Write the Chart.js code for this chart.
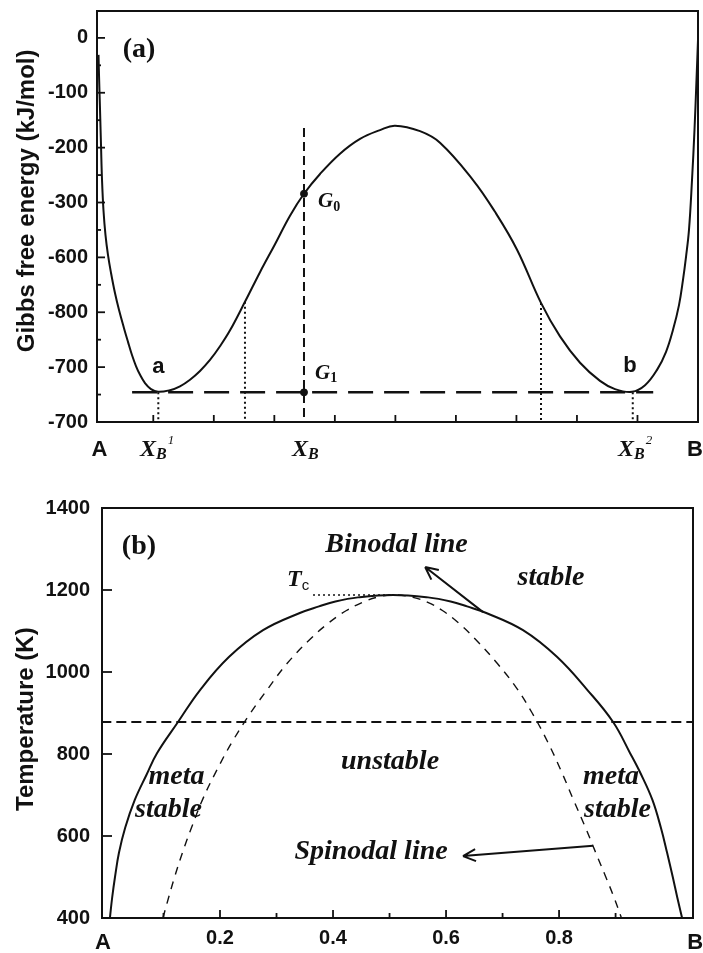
<!DOCTYPE html>
<html>
  <head>
    <script src="https://cdn.jsdelivr.net/npm/chart.js@4.4.1/dist/chart.umd.min.js"></script>
    <style>
      body { margin: 0; background: #fff; }
      .panel { position: absolute; left: 0; width: 703px; }
    </style>
  </head>
  <body>
    <div class="panel" style="top: 0; height: 470px"><canvas id="chart-a" width="703" height="470"></canvas></div>
    <div class="panel" style="top: 480px; height: 473px"><canvas id="chart-b" width="703" height="473"></canvas></div>
    <script>
      const INK = "#111";
      const SANS = "'Liberation Sans', Arial, sans-serif";
      const SERIF = "'Liberation Serif', 'Times New Roman', serif";

      // PANEL (a) - Gibbs free energy vs composition

      const gibbsX = [
        0.0095, 0.0103, 0.012, 0.0137, 0.0153, 0.0177, 0.021, 0.0252, 0.0301, 0.0367,
        0.0434, 0.0516, 0.0582, 0.0648, 0.0714, 0.0781, 0.0863, 0.0962, 0.1078,
        0.1276, 0.1441, 0.1607, 0.1772, 0.1937, 0.2102, 0.2268, 0.2515, 0.2763, 0.3011,
        0.3259, 0.349, 0.3755, 0.4085, 0.4416, 0.4746, 0.4994, 0.5407, 0.5737, 0.6283,
        0.6646, 0.701, 0.7406, 0.772, 0.8051, 0.8381, 0.8629, 0.891, 0.9125, 0.9323,
        0.9472, 0.9587, 0.9686, 0.9752, 0.9802, 0.9851, 0.9901, 0.9942, 0.9975, 1.0,
      ];
      const gibbsG = [
        -31, -67, -131, -199, -259, -314, -359, -396, -428, -465,
        -496, -529, -554, -578, -598, -614, -629, -640, -645,
        -642, -635, -623, -607, -587, -562, -533, -481, -427, -376,
        -324, -284, -248, -211, -184, -168, -160, -170, -191, -259,
        -317, -386, -483, -544, -592, -625, -640, -645, -633, -605,
        -572, -532, -487, -441, -399, -350, -259, -168, -77, -4,
      ];
      const yTicksA = [0, -100, -200, -300, -400, -500, -600, -700];
      const yTickLabelsA = ["0", "-100", "-200", "-300", "-600", "-800", "-700", "-700"];
      const yMinorA = [-50, -150, -250, -350, -450, -550, -650];
      const xTicksA = [0.1, 0.2, 0.3, 0.4, 0.5, 0.6, 0.7, 0.8, 0.9];
      const xB1 = 0.1083;
      const xB = 0.349;
      const xB2 = 0.8922;
      const xSpinA = [0.2515, 0.7406];
      const gSpinA = [-481, -483];
      const gCommon = -646;
      const commonSpan = [0.065, 0.926];
      const g0 = -284;
      const xBLineTop = -164;

      // PANEL (b) - miscibility gap

      const binodalX = [
        0.0052, 0.0092, 0.0142, 0.0212, 0.0322, 0.0492, 0.0702, 0.0885, 0.1257, 0.1647,
        0.2162, 0.2762, 0.3412, 0.3752, 0.4042, 0.4442, 0.5062, 0.5682, 0.6082, 0.6372,
        0.6712, 0.7362, 0.7962, 0.8502, 0.8956, 0.9257, 0.9452, 0.9652, 0.9802, 0.9912,
        1.0012, 1.0092, 1.0177,
      ];
      const binodalT = [
        400, 450, 500, 559, 620, 688, 750, 802, 878, 956,
        1037, 1102, 1144, 1160, 1172, 1182, 1188, 1182, 1172, 1160,
        1144, 1102, 1037, 956, 878, 802, 750, 688, 620, 559,
        500, 450, 400,
      ];
      const spinodalX = [
        0.099, 0.1091, 0.1197, 0.1337, 0.1495, 0.1695, 0.1941, 0.2217, 0.254, 0.2852,
        0.3182, 0.3594, 0.3926, 0.4238, 0.4527, 0.4767, 0.5062, 0.5417, 0.5677, 0.5936,
        0.6218, 0.652, 0.6912, 0.7252, 0.7524, 0.7797, 0.8033, 0.8249, 0.8469, 0.8647,
        0.8827, 0.8973, 0.9104,
      ];
      const spinodalT = [
        400, 450, 500, 560, 620, 690, 760, 830, 900, 960,
        1020, 1080, 1120, 1150, 1170, 1182, 1188, 1182, 1170, 1150,
        1120, 1080, 1020, 960, 900, 830, 760, 690, 620, 560,
        500, 450, 400,
      ];
      const tieT = 878;
      const Tc = 1188;
      const tcLineX = [0.3646, 0.5062];
      const yTicksB = [400, 600, 800, 1000, 1200, 1400];
      const xTicksB = [0.2, 0.4, 0.6, 0.8];
      const xMinorB = [0.1, 0.3, 0.5, 0.7, 0.9];

      // HELPERS

      function pts(xs, ys) {
        return xs.map(function (x, i) {
          return { x: x, y: ys[i] };
        });
      }

      function curve(data, width, dash, smooth) {
        return {
          data: data,
          borderColor: INK,
          backgroundColor: INK,
          borderWidth: width,
          borderDash: dash || [],
          pointRadius: 0,
          fill: false,
          tension: smooth ? 0.4 : 0,
        };
      }

      function dot(x, y) {
        return {
          type: "scatter",
          data: [{ x: x, y: y }],
          pointRadius: 3.5,
          pointBackgroundColor: INK,
          pointBorderColor: INK,
        };
      }

      function noScalePadding(s) {
        s.paddingTop = 0;
        s.paddingBottom = 0;
        s.paddingLeft = 0;
        s.paddingRight = 0;
      }

      function drawText(ctx, chart, item) {
        const px = chart.scales.x.getPixelForValue(item.x);
        const py = chart.scales.y.getPixelForValue(item.y);
        const parts = item.parts || [{ t: item.text }];
        ctx.save();
        ctx.translate(px, py);
        if (item.rotate) ctx.rotate((item.rotate * Math.PI) / 180);
        ctx.textBaseline = "middle";
        ctx.textAlign = "left";
        let w = 0;
        parts.forEach(function (p) {
          ctx.font = p.font || item.font;
          w += ctx.measureText(p.t).width + (p.dx || 0);
        });
        let cx = item.align === "left" ? 0 : -w / 2;
        parts.forEach(function (p) {
          ctx.font = p.font || item.font;
          cx += p.dx || 0;
          ctx.fillText(p.t, cx, p.dy || 0);
          cx += ctx.measureText(p.t).width;
        });
        ctx.restore();
      }

      function drawArrow(ctx, chart, ar) {
        const sx = chart.scales.x;
        const sy = chart.scales.y;
        const x0 = sx.getPixelForValue(ar.from[0]);
        const y0 = sy.getPixelForValue(ar.from[1]);
        const x1 = sx.getPixelForValue(ar.to[0]);
        const y1 = sy.getPixelForValue(ar.to[1]);
        const ang = Math.atan2(y1 - y0, x1 - x0);
        ctx.beginPath();
        ctx.moveTo(x0, y0);
        ctx.lineTo(x1, y1);
        [0.45, -0.45].forEach(function (d) {
          ctx.moveTo(x1, y1);
          ctx.lineTo(x1 - 14 * Math.cos(ang + d), y1 - 14 * Math.sin(ang + d));
        });
        ctx.stroke();
      }

      // frame, inward ticks, arrows and labels
      const figureDecor = {
        id: "figureDecor",
        afterDatasetsDraw(chart, args, opts) {
          const ctx = chart.ctx;
          const a = chart.chartArea;
          const sx = chart.scales.x;
          const sy = chart.scales.y;
          ctx.save();
          ctx.strokeStyle = INK;
          ctx.fillStyle = INK;
          ctx.lineWidth = 2;
          ctx.strokeRect(a.left, a.top, a.right - a.left, a.bottom - a.top);
          ctx.lineWidth = 1.8;
          (opts.ticks || []).forEach(function (t) {
            t.values.forEach(function (v) {
              ctx.beginPath();
              if (t.axis === "x") {
                const px = sx.getPixelForValue(v);
                ctx.moveTo(px, a.bottom);
                ctx.lineTo(px, a.bottom - t.len);
              } else {
                const py = sy.getPixelForValue(v);
                ctx.moveTo(a.left, py);
                ctx.lineTo(a.left + t.len, py);
              }
              ctx.stroke();
            });
          });
          ctx.lineWidth = 2;
          (opts.arrows || []).forEach(function (ar) {
            drawArrow(ctx, chart, ar);
          });
          (opts.texts || []).forEach(function (item) {
            drawText(ctx, chart, item);
          });
          ctx.restore();
        },
      };

      const tickFont = { family: SANS, size: 20, weight: "bold" };
      const titleFont = "bold 24px " + SANS;
      const panelFont = "bold 28px " + SERIF;
      const noteFont = "italic bold 28px " + SERIF;
      const xbParts = function (sup) {
        const parts = [
          { t: "X", font: "italic bold 24px " + SERIF },
          { t: "B", font: "italic bold 16px " + SERIF, dy: 5 },
        ];
        if (sup) parts.push({ t: sup, font: "italic 13px " + SERIF, dy: -9, dx: 1 });
        return parts;
      };

      // CHART (a)

      new Chart(document.getElementById("chart-a"), {
        type: "line",
        data: {
          datasets: [
            curve(pts(gibbsX, gibbsG), 2, null, true),
            curve(pts([xB, xB], [xBLineTop, -700]), 2, [9, 5]),
            curve(pts(commonSpan, [gCommon, gCommon]), 2.5, [25, 11]),
            curve(pts([xB1, xB1], [gCommon, -700]), 2, [2, 3]),
            curve(pts([xB2, xB2], [gCommon, -700]), 2, [2, 3]),
            curve(pts([xSpinA[0], xSpinA[0]], [gSpinA[0], -700]), 2, [2, 3]),
            curve(pts([xSpinA[1], xSpinA[1]], [gSpinA[1], -700]), 2, [2, 3]),
            dot(xB, g0),
            dot(xB, gCommon),
          ],
        },
        options: {
          responsive: false,
          animation: false,
          events: [],
          layout: { padding: { top: 11, right: 5, left: 0, bottom: 0 } },
          plugins: {
            legend: { display: false },
            tooltip: { enabled: false },
            figureDecor: {
              ticks: [
                { axis: "y", values: yTicksA, len: 8 },
                { axis: "y", values: yMinorA, len: 4 },
                { axis: "x", values: xTicksA, len: 7 },
              ],
              texts: [
                { x: -0.1078, y: -297, text: "Gibbs free energy (kJ/mol)", font: titleFont, rotate: -90 },
                { x: 0.0764, y: -22, text: "(a)", font: panelFont },
                { x: 0.3722, y: -299, align: "left", parts: [
                  { t: "G", font: "italic bold 21px " + SERIF },
                  { t: "0", font: "bold 14px " + SERIF, dy: 5 },
                ] },
                { x: 0.3672, y: -611, align: "left", parts: [
                  { t: "G", font: "italic bold 21px " + SERIF },
                  { t: "1", font: "bold 14px " + SERIF, dy: 5 },
                ] },
                { x: 0.1086, y: -600, text: "a", font: "bold 22px " + SANS },
                { x: 0.8877, y: -598, text: "b", font: "bold 22px " + SANS },
                { x: 0.0111, y: -751, text: "A", font: "bold 22px " + SANS },
                { x: 0.9951, y: -751, text: "B", font: "bold 22px " + SANS },
                { x: 0.0781, y: -751, align: "left", parts: xbParts("1") },
                { x: 0.3292, y: -751, align: "left", parts: xbParts(null) },
                { x: 0.8679, y: -751, align: "left", parts: xbParts("2") },
              ],
            },
          },
          scales: {
            x: {
              type: "linear",
              min: 0.007,
              max: 1.0,
              ticks: { display: false },
              grid: { display: false, drawTicks: false },
              border: { display: false },
              afterFit: function (s) {
                s.height = 48;
                noScalePadding(s);
              },
            },
            y: {
              min: -700,
              max: 49,
              afterBuildTicks: function (s) {
                s.ticks = yTicksA.map(function (v) {
                  return { value: v };
                });
              },
              ticks: {
                autoSkip: false,
                padding: 9,
                color: INK,
                font: tickFont,
                callback: function (v) {
                  return yTickLabelsA[yTicksA.indexOf(v)];
                },
              },
              grid: { display: false, drawTicks: false },
              border: { display: false },
              afterFit: function (s) {
                s.width = 97;
                noScalePadding(s);
              },
            },
          },
        },
        plugins: [figureDecor],
      });

      // CHART (b)

      new Chart(document.getElementById("chart-b"), {
        type: "line",
        data: {
          datasets: [
            curve(pts(binodalX, binodalT), 2, null, true),
            curve(pts(spinodalX, spinodalT), 1.4, [8, 7], true),
            curve(pts([-0.01, 1.04], [tieT, tieT]), 2, [10, 5]),
            curve(pts(tcLineX, [Tc, Tc]), 1.5, [2, 3]),
          ],
        },
        options: {
          responsive: false,
          animation: false,
          events: [],
          layout: { padding: { top: 28, right: 10, left: 0, bottom: 0 } },
          plugins: {
            legend: { display: false },
            tooltip: { enabled: false },
            figureDecor: {
              ticks: [
                { axis: "y", values: yTicksB, len: 10 },
                { axis: "x", values: xTicksB, len: 8 },
                { axis: "x", values: xMinorB, len: 5 },
              ],
              arrows: [
                { from: [0.6655, 1146], to: [0.563, 1256] },
                { from: [0.8602, 576], to: [0.63, 551] },
              ],
              texts: [
                { x: -0.1434, y: 885, text: "Temperature (K)", font: titleFont, rotate: -90 },
                { x: 0.0566, y: 1305, text: "(b)", font: panelFont },
                { x: 0.5124, y: 1310, text: "Binodal line", font: noteFont },
                { x: 0.7858, y: 1229, text: "stable", font: noteFont },
                { x: 0.3186, y: 1224, align: "left", parts: [
                  { t: "T", font: "italic bold 24px " + SERIF },
                  { t: "c", font: "15px " + SANS, dy: 6 },
                ] },
                { x: 0.5009, y: 780, text: "unstable", font: noteFont },
                { x: 0.123, y: 744, text: "meta", font: noteFont },
                { x: 0.1088, y: 663, text: "stable", font: noteFont },
                { x: 0.892, y: 744, text: "meta", font: noteFont },
                { x: 0.9035, y: 663, text: "stable", font: noteFont },
                { x: 0.4673, y: 561, text: "Spinodal line", font: noteFont },
                { x: -0.0071, y: 339, text: "A", font: "bold 22px " + SANS },
                { x: 1.0407, y: 339, text: "B", font: "bold 22px " + SANS },
              ],
            },
          },
          scales: {
            x: {
              type: "linear",
              min: -0.0088,
              max: 1.037,
              afterBuildTicks: function (s) {
                s.ticks = xTicksB.map(function (v) {
                  return { value: v };
                });
              },
              ticks: {
                autoSkip: false,
                maxRotation: 0,
                padding: 8,
                color: INK,
                font: tickFont,
                callback: function (v) {
                  return v.toFixed(1);
                },
              },
              grid: { display: false, drawTicks: false },
              border: { display: false },
              afterFit: function (s) {
                s.height = 35;
                noScalePadding(s);
              },
            },
            y: {
              min: 400,
              max: 1400,
              afterBuildTicks: function (s) {
                s.ticks = yTicksB.map(function (v) {
                  return { value: v };
                });
              },
              ticks: {
                autoSkip: false,
                padding: 12,
                color: INK,
                font: tickFont,
                callback: function (v) {
                  return String(v);
                },
              },
              grid: { display: false, drawTicks: false },
              border: { display: false },
              afterFit: function (s) {
                s.width = 102;
                noScalePadding(s);
              },
            },
          },
        },
        plugins: [figureDecor],
      });
    </script>
  </body>
</html>
